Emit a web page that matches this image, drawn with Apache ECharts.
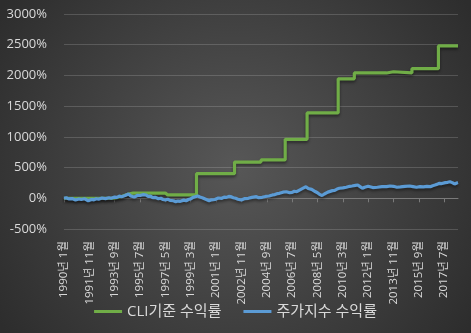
<!DOCTYPE html>
<html>
<head>
<meta charset="utf-8">
<script src="https://cdn.jsdelivr.net/npm/echarts@6/dist/echarts.min.js"></script>
<style>
  html, body { margin: 0; padding: 0; background: #3a3a3a; }
  #chart { width: 471px; height: 333px; }
</style>
</head>
<body>
<div id="chart"></div>
<script>
// Monthly categories, January 1990 to July 2018
const startYear = 1990;
const monthCount = 343;
const categories = [];
for (let i = 0; i < monthCount; i++) {
  const y = startYear + Math.floor(i / 12);
  const m = (i % 12) + 1;
  categories.push(y + '년 ' + m + '월');
}

// Y-axis ticks (%)
const yTicks = [-500, 0, 500, 1000, 1500, 2000, 2500, 3000];

const seriesNames = ['CLI기준 수익률', '주가지수 수익률'];

// CLI-based strategy return: [month index, %]
const cliReturn = [
  [0, 0], [20, 0], [44, 0], [50, 30], [56, 70], [60, 85], [88, 85], [90, 55],
  [115, 55], [115, 400], [148, 400], [148, 590], [171, 590], [171, 625],
  [192, 625], [192, 960], [211, 960], [211, 1390], [238, 1390], [238, 1945],
  [252, 1945], [252, 2040], [280, 2040], [281, 2060], [286, 2060], [287, 2040],
  [302, 2040], [302, 2110], [325, 2110], [325, 2480], [342, 2480]
];

// Stock index return: [month index, %]
const indexReturn = [
  [0, 0], [2, 8], [4, -10], [7, -5], [10, -28], [13, -12], [15, -20], [18, -8],
  [21, -40], [24, -18], [26, -25], [28, -8], [30, -16], [33, 5], [36, -5],
  [39, 10], [41, 0], [44, 20], [46, 15], [48, 35], [50, 26], [53, 45],
  [56, 70], [58, 38], [59, 45], [61, 20], [62, 26], [64, 50], [66, 45],
  [69, 60], [71, 54], [73, 30], [75, 35], [77, 10], [79, 16], [82, -8],
  [84, 0], [86, -20], [88, -28], [90, -15], [92, -35], [95, -40], [97, -55],
  [99, -45], [101, -50], [104, -30], [106, -40], [108, -20], [110, -10],
  [112, 15], [114, 26], [116, 37], [118, 20], [120, 10], [123, -15],
  [126, -40], [128, -25], [131, -20], [134, 5], [137, 0], [139, 20],
  [141, 15], [143, 30], [145, 26], [147, 10], [149, 0], [151, -15],
  [154, -28], [157, -5], [160, 0], [163, 15], [167, 26], [169, 10],
  [172, 16], [175, 30], [178, 37], [181, 55], [183, 60], [185, 75],
  [187, 81], [190, 100], [193, 107], [196, 90], [198, 95], [200, 115],
  [202, 107], [204, 130], [206, 150], [208, 170], [210, 189], [212, 160],
  [213, 165], [215, 145], [216, 140], [218, 110], [220, 90], [222, 60],
  [224, 45], [226, 70], [227, 80], [229, 100], [230, 107], [233, 125],
  [235, 130], [237, 150], [239, 163], [242, 170], [245, 180], [248, 195],
  [250, 200], [253, 210], [255, 216], [257, 190], [259, 163], [261, 180],
  [262, 175], [264, 195], [265, 189], [268, 175], [272, 180], [276, 190],
  [280, 189], [283, 200], [286, 195], [289, 180], [292, 185], [296, 195],
  [300, 200], [303, 190], [306, 180], [309, 190], [312, 185], [315, 195],
  [318, 189], [320, 205], [322, 215], [324, 230], [326, 244], [328, 240],
  [331, 255], [333, 260], [335, 270], [337, 255], [339, 233], [341, 250],
  [342, 256]
];

const textColor = '#d9d9d9';
const gridColor = 'rgba(255,255,255,0.16)';
const labelFont = "'Open Sans', 'Noto Sans CJK KR', sans-serif";

const chart = echarts.init(document.getElementById('chart'));
chart.setOption({
  backgroundColor: {
    type: 'radial', x: 0.5, y: 0.5, r: 0.85,
    colorStops: [
      { offset: 0, color: '#575757' },
      { offset: 1, color: '#2d2d2d' }
    ]
  },
  animation: false,
  grid: { left: 64, right: 13, top: 14, bottom: 104 },
  legend: {
    bottom: 9,
    left: 'center',
    itemGap: 22,
    itemWidth: 28,
    itemHeight: 3,
    icon: 'rect',
    textStyle: { color: textColor, fontSize: 15, fontFamily: labelFont },
    data: seriesNames
  },
  xAxis: {
    type: 'category',
    data: categories,
    boundaryGap: false,
    axisLine: { onZero: true, lineStyle: { color: '#7a7a7a', width: 1 } },
    axisTick: { show: true, interval: 21, length: 4, lineStyle: { color: '#7a7a7a' } },
    axisLabel: {
      interval: 21,
      rotate: 90,
      margin: 12,
      color: textColor,
      fontSize: 11.5,
      fontFamily: labelFont
    },
    splitLine: { show: false }
  },
  yAxis: {
    type: 'value',
    min: yTicks[0],
    max: yTicks[yTicks.length - 1],
    interval: 500,
    axisLine: { show: false },
    axisTick: { show: false },
    axisLabel: {
      formatter: function (v) { return v + '%'; },
      color: textColor,
      fontSize: 13,
      margin: 17,
      fontFamily: labelFont
    },
    splitLine: { lineStyle: { color: gridColor, width: 1 } }
  },
  series: [
    {
      name: seriesNames[0],
      type: 'line',
      data: cliReturn,
      showSymbol: false,
      symbol: 'none',
      color: '#70ad47',
      lineStyle: {
        width: 3.2, color: '#70ad47',
        shadowColor: 'rgba(0,0,0,0.45)', shadowBlur: 3, shadowOffsetY: 2
      }
    },
    {
      name: seriesNames[1],
      type: 'line',
      data: indexReturn,
      showSymbol: false,
      symbol: 'none',
      color: '#5b9bd5',
      lineStyle: {
        width: 3.2, color: '#5b9bd5',
        shadowColor: 'rgba(0,0,0,0.45)', shadowBlur: 3, shadowOffsetY: 2
      }
    }
  ]
});
</script>
</body>
</html>
